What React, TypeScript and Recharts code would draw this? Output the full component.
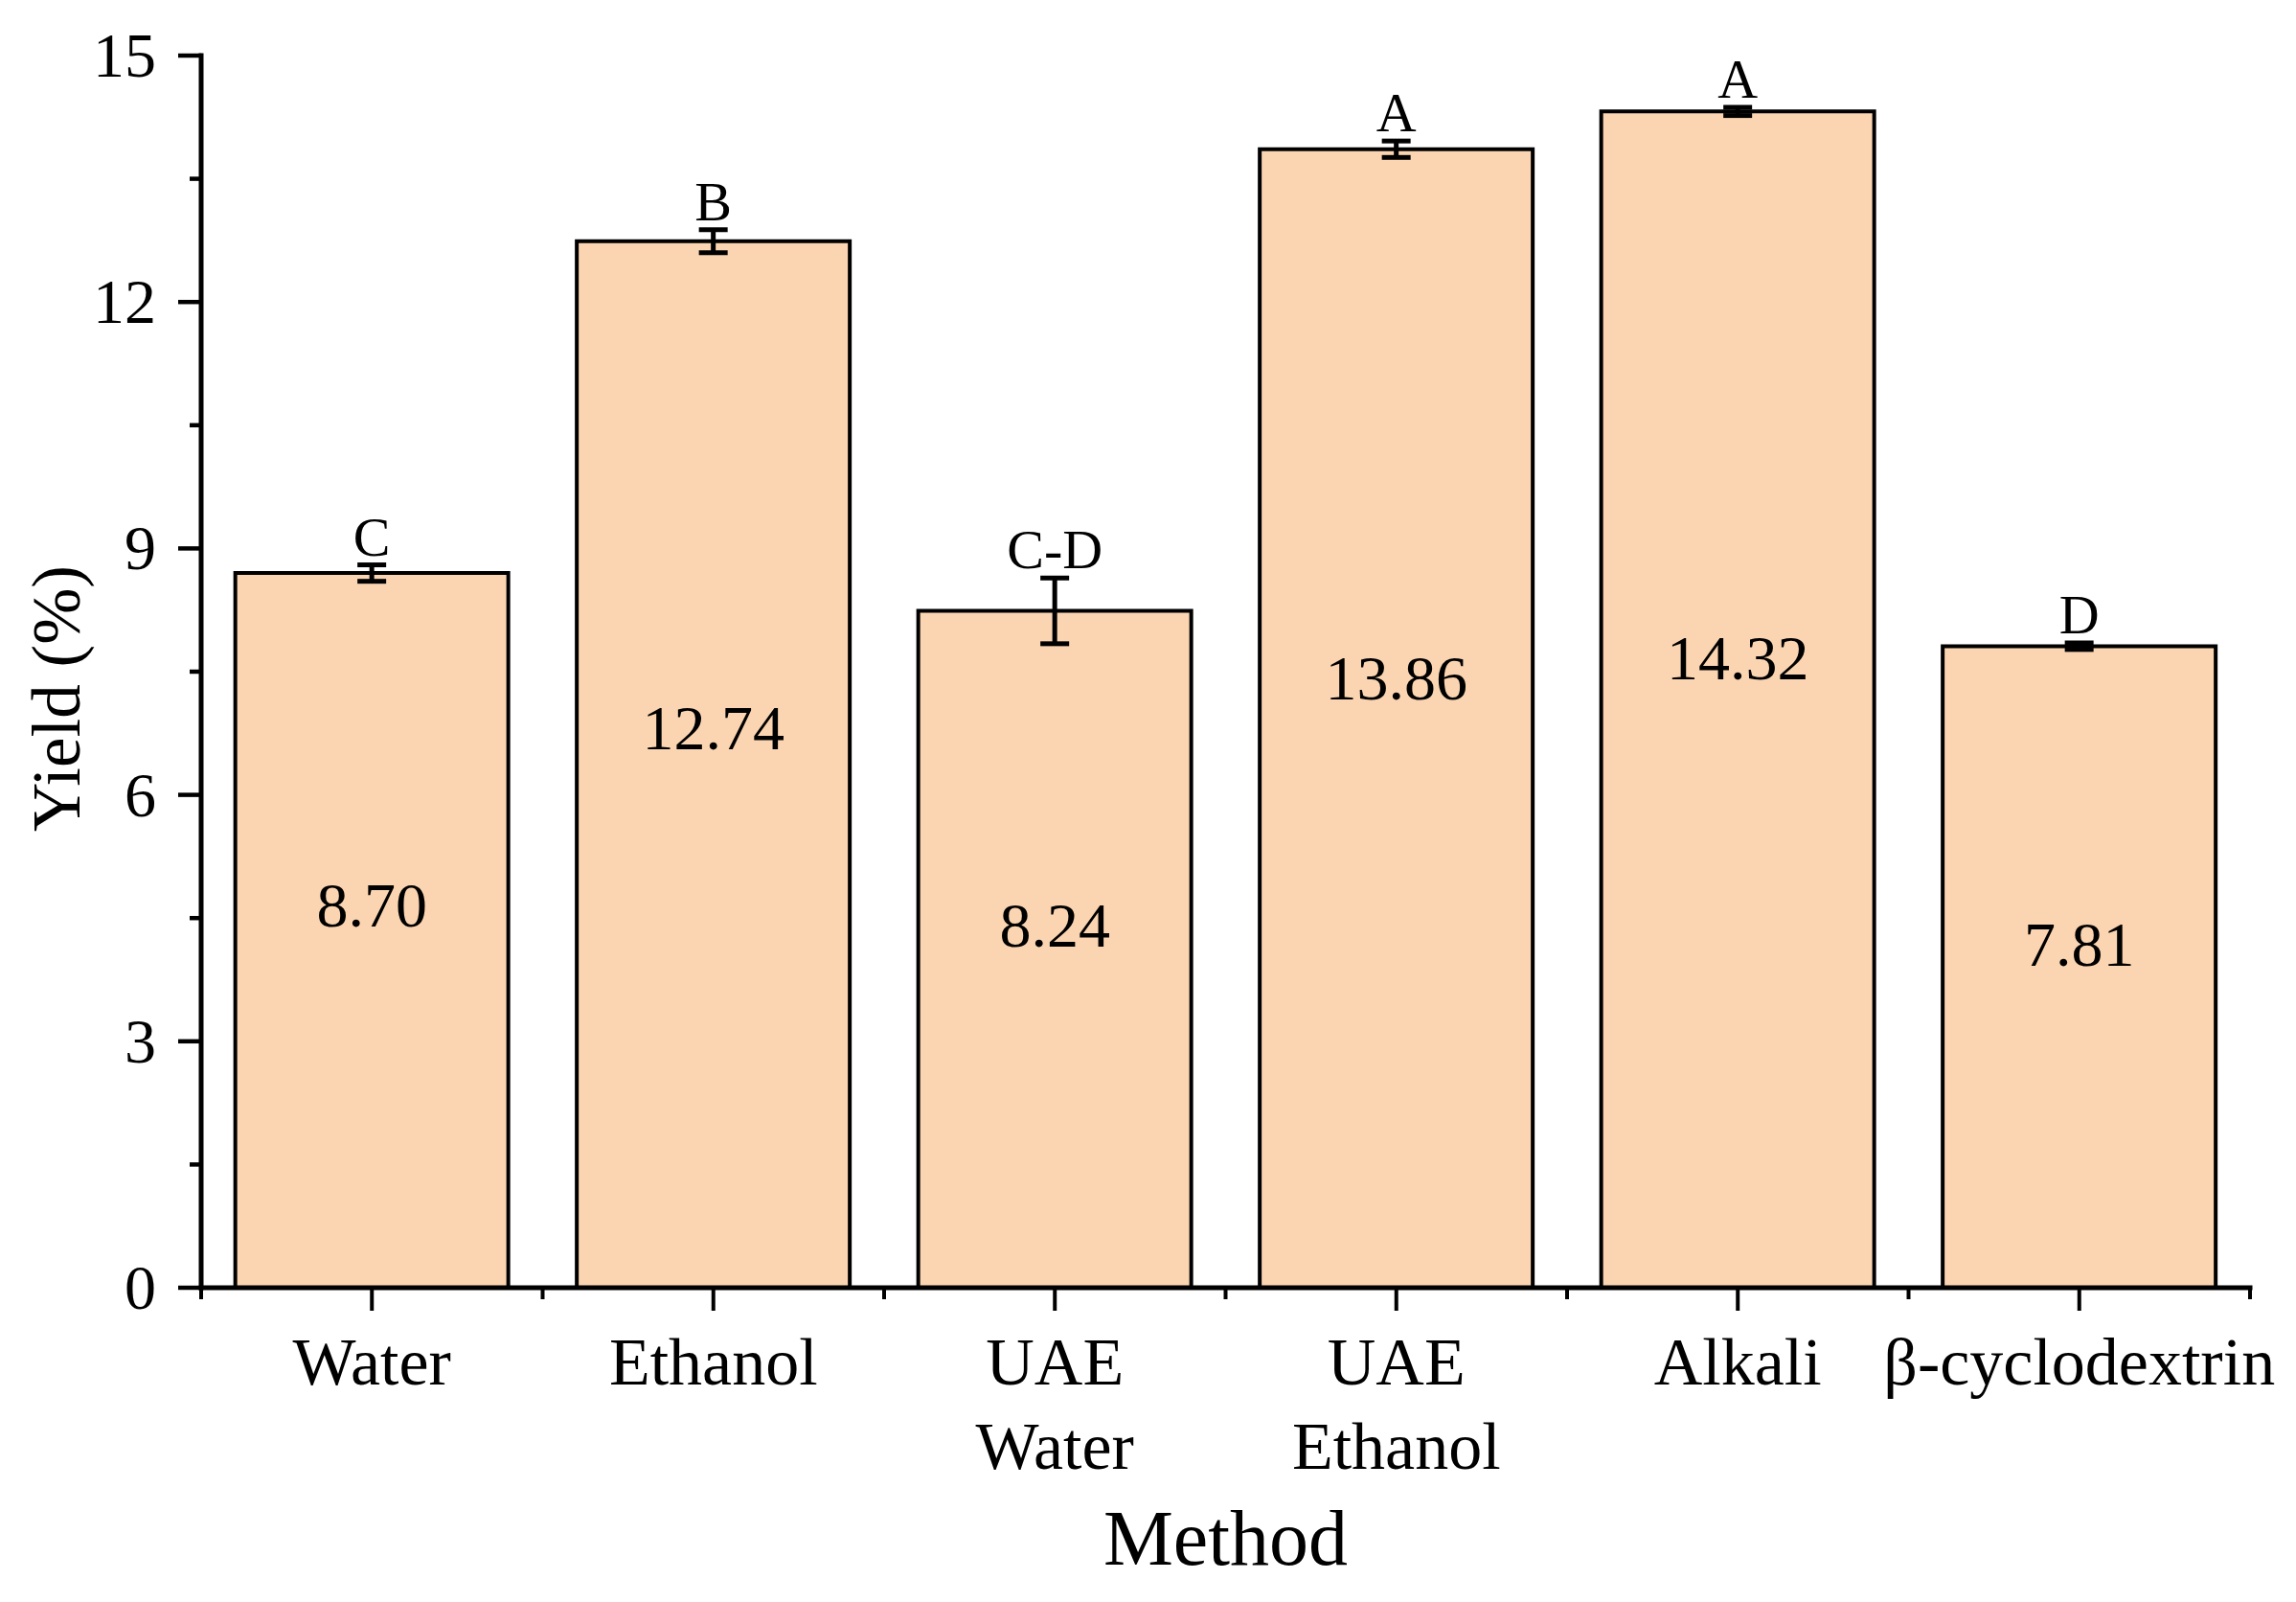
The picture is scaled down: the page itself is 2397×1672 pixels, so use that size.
import { BarChart, Bar, XAxis, YAxis, ErrorBar, LabelList, Label } from "recharts";

// extraction method vs yield
const methods = ["Water", "Ethanol", "UAE\nWater", "UAE\nEthanol", "Alkali", "β-cyclodextrin"];
const yields = [8.7, 12.74, 8.24, 13.86, 14.32, 7.81];
const errors = [0.1, 0.14, 0.4, 0.1, 0.05, 0.04];
const letters = ["C", "B", "C-D", "A", "A", "D"];

const yMajor = [0, 3, 6, 9, 12, 15];
const yMinor = [1.5, 4.5, 7.5, 10.5, 13.5];

const data = methods.map((m, i) => ({
  method: m,
  yield: yields[i],
  err: errors[i],
  letter: letters[i],
}));

const FONT = '"Liberation Serif", "Times New Roman", serif';
const BAR_FILL = "#FBD5B1";

const YTick = (props: any) => {
  const { x, y, payload } = props;
  const major = yMajor.includes(payload.value);
  const len = major ? 24 : 12;
  return (
    <g>
      <line x1={x - len} x2={x} y1={y} y2={y} stroke="#000" strokeWidth={4.5} />
      {major && (
        <text x={x - 47} y={y + 22} textAnchor="end" fontSize={66} fontFamily={FONT} fill="#000">
          {payload.value}
        </text>
      )}
    </g>
  );
};

const XTick = (props: any) => {
  const { x, y, payload, index, width } = props;
  const bw = (width || 2139) / methods.length;
  const lines = String(payload.value).split("\n");
  return (
    <g>
      <line x1={x} x2={x} y1={y} y2={y + 24} stroke="#000" strokeWidth={4} />
      <line x1={x - bw / 2} x2={x - bw / 2} y1={y} y2={y + 12} stroke="#000" strokeWidth={4} />
      {index === methods.length - 1 && (
        <line x1={x + bw / 2} x2={x + bw / 2} y1={y} y2={y + 12} stroke="#000" strokeWidth={4} />
      )}
      {lines.map((l, i) => (
        <text key={i} x={x} y={y + 101 + i * 88} textAnchor="middle" fontSize={70} fontFamily={FONT} fill="#000">
          {l}
        </text>
      ))}
    </g>
  );
};

const ValueLabel = (props: any) => {
  const { x, y, width, height, index } = props;
  const cy = y + height * 0.465 + 22;
  return (
    <text x={x + width / 2} y={cy} textAnchor="middle" fontSize={66} fontFamily={FONT} fill="#000">
      {yields[index].toFixed(2)}
    </text>
  );
};

const LetterLabel = (props: any) => {
  const { x, y, width, height, index } = props;
  const pxPerUnit = height / yields[index];
  const top = y - errors[index] * pxPerUnit;
  return (
    <text x={x + width / 2} y={top - 10} textAnchor="middle" fontSize={58} fontFamily={FONT} fill="#000">
      {letters[index]}
    </text>
  );
};

export default function App() {
  return (
    <div style={{ position: "absolute", left: 0, top: 0, width: 2397, height: 1672, background: "#fff" }}>
      <BarChart
        width={2397}
        height={1672}
        data={data}
        margin={{ top: 58, right: 48, bottom: 0, left: 0 }}
        barCategoryGap="10%"
        style={{ fontFamily: FONT }}
      >
        <XAxis
          dataKey="method"
          height={328}
          interval={0}
          tickLine={false}
          tickSize={0}
          tickMargin={0}
          axisLine={{ stroke: "#000", strokeWidth: 5, strokeLinecap: "square" }}
          tick={XTick}
        >
          <Label
            content={(p: any) => {
              const vb = p.viewBox;
              return (
                <text x={vb.x + vb.width / 2} y={vb.y + 289} textAnchor="middle" fontSize={82} fontFamily={FONT} fill="#000">
                  Method
                </text>
              );
            }}
          />
        </XAxis>
        <YAxis
          width={210}
          domain={[0, 15]}
          ticks={[...yMajor, ...yMinor].sort((a, b) => a - b)}
          interval={0}
          tickLine={false}
          tickSize={0}
          tickMargin={0}
          axisLine={{ stroke: "#000", strokeWidth: 5, strokeLinecap: "square" }}
          tick={YTick}
        >
          <Label
            content={(p: any) => {
              const vb = p.viewBox;
              const cy = vb.y + vb.height / 2 + 28;
              return (
                <text
                  x={83}
                  y={cy}
                  transform={`rotate(-90, 83, ${cy})`}
                  textAnchor="middle"
                  fontSize={71}
                  fontFamily={FONT}
                  fill="#000"
                >
                  Yield (%)
                </text>
              );
            }}
          />
        </YAxis>
        <Bar dataKey="yield" fill={BAR_FILL} stroke="#000" strokeWidth={4} isAnimationActive={false}>
          <ErrorBar dataKey="err" direction="y" width={15} strokeWidth={5} stroke="#000" isAnimationActive={false} />
          <LabelList dataKey="yield" content={ValueLabel} />
          <LabelList dataKey="letter" content={LetterLabel} />
        </Bar>
      </BarChart>
    </div>
  );
}
